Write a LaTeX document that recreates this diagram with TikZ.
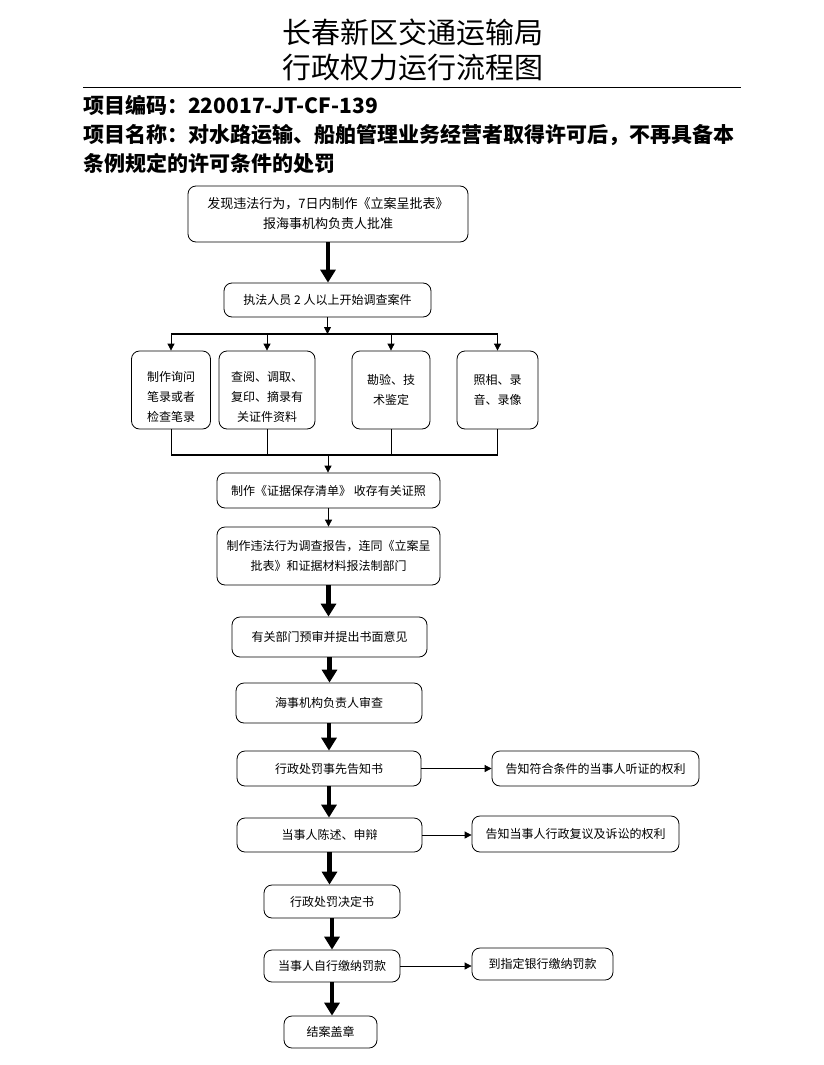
\documentclass[tikz,border=0pt]{standalone}
\usepackage{fontspec}
\setmainfont{Noto Sans CJK SC}
\usetikzlibrary{arrows.meta}
\begin{document}
\begin{tikzpicture}[x=1pt,y=-1pt,
    box/.style={draw,rounded corners=8pt,line width=0.8pt,align=center,inner sep=0pt,
      font=\fontsize{12}{20}\selectfont},
    fat/.style={line width=4.5pt,-{Triangle[length=13pt,width=15pt]}},
    slim/.style={line width=0.8pt,-{Triangle[length=7pt,width=7pt]}},
    bus/.style={line width=1.6pt}]
  \useasboundingbox (0,0) rectangle (823,1065);
  % title and header
  \node[font=\fontsize{29}{36}\selectfont] (t1) at (413,32) {长春新区交通运输局};
  \node[font=\fontsize{29}{36}\selectfont] (t2) at (413,68) {行政权力运行流程图};
  \draw[line width=0.8pt] (83,87) -- (741,87);
  \node[anchor=west,inner sep=0pt,font=\bfseries\fontsize{21}{28}\selectfont] (code) at (83,105) {项目编码：220017-JT-CF-139};
  \node[anchor=west,inner sep=0pt,font=\bfseries\fontsize{21}{28}\selectfont] (name1) at (83,135) {项目名称：对水路运输、船舶管理业务经营者取得许可后，不再具备本};
  \node[anchor=west,inner sep=0pt,font=\bfseries\fontsize{21}{28}\selectfont] (name2) at (83,163) {条例规定的许可条件的处罚};
  % main column
  \node[box,minimum width=280pt,minimum height=56pt,font=\fontsize{13}{20}\selectfont] (b1) at (328,214) {发现违法行为，7日内制作《立案呈批表》\\报海事机构负责人批准};
  \node[box,minimum width=207pt,minimum height=34pt] (b2) at (327.5,300) {执法人员 2 人以上开始调查案件};
  \node[box,minimum width=79pt,minimum height=78pt,text height=64pt,text depth=1.5pt] (s1) at (171,390) {制作询问\\笔录或者\\检查笔录};
  \node[box,minimum width=96pt,minimum height=78pt,text height=64pt,text depth=1.5pt] (s2) at (267,390) {查阅、调取、\\复印、摘录有\\关证件资料};
  \node[box,minimum width=78pt,minimum height=78pt] (s3) at (391,390) {勘验、技\\术鉴定};
  \node[box,minimum width=81pt,minimum height=78pt] (s4) at (497.5,390) {照相、录\\音、录像};
  \node[box,minimum width=223pt,minimum height=35pt] (b3) at (328.5,490.5) {制作《证据保存清单》 收存有关证照};
  \node[box,minimum width=223pt,minimum height=58pt] (b4) at (328.5,556) {制作违法行为调查报告，连同《立案呈\\批表》和证据材料报法制部门};
  \node[box,minimum width=195pt,minimum height=40pt] (b5) at (329.5,637) {有关部门预审并提出书面意见};
  \node[box,minimum width=186pt,minimum height=40pt] (b6) at (329,703) {海事机构负责人审查};
  \node[box,minimum width=184pt,minimum height=35pt] (b7) at (329,768.5) {行政处罚事先告知书};
  \node[box,minimum width=185pt,minimum height=34pt] (b8) at (329.5,835) {当事人陈述、申辩};
  \node[box,minimum width=136pt,minimum height=33pt] (b9) at (332,901.5) {行政处罚决定书};
  \node[box,minimum width=136pt,minimum height=32pt] (b10) at (332,966) {当事人自行缴纳罚款};
  \node[box,minimum width=93pt,minimum height=32pt] (b11) at (330.5,1032) {结案盖章};
  % side boxes
  \node[box,minimum width=207pt,minimum height=35pt] (r7) at (595.5,768.5) {告知符合条件的当事人听证的权利};
  \node[box,minimum width=207pt,minimum height=36pt] (r8) at (575.5,834) {告知当事人行政复议及诉讼的权利};
  \node[box,minimum width=141pt,minimum height=32pt] (r10) at (542.5,964) {到指定银行缴纳罚款};
  % connectors
  \coordinate (topbus) at (328,334);
  \coordinate (botbus) at (328,455);
  \draw[slim] (b2.south) -- (b2.south |- topbus);
  \draw[bus] (s1.north |- topbus) -- (s4.north |- topbus);
  \foreach \i in {1,...,4} \draw[slim] (s\i.north |- topbus) -- (s\i.north);
  \foreach \i in {1,...,4} \draw[line width=0.8pt] (s\i.south) -- (s\i.south |- botbus);
  \draw[bus] (s1.south |- botbus) -- (s4.south |- botbus);
  \draw[slim] (botbus) -- (botbus |- b3.north);
  \draw[slim] (b3.south) -- (b3.south |- b4.north);
  \foreach \u/\v in {b1/b2,b4/b5,b5/b6,b6/b7,b7/b8,b8/b9,b9/b10,b10/b11}
    \draw[fat] (\u.south) -- (\u.south |- \v.north);
  \foreach \u/\v in {b7/r7,b8/r8,b10/r10}
    \draw[slim] (\u.east) -- (\u.east -| \v.west);
\end{tikzpicture}
\end{document}
